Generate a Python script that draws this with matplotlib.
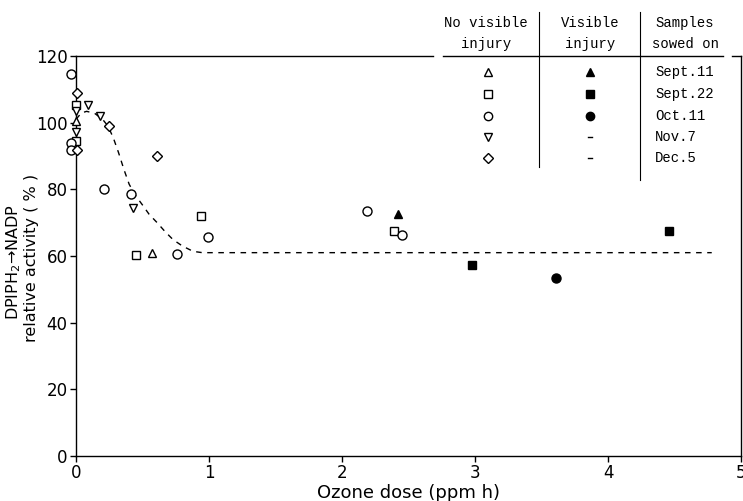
import matplotlib.pyplot as plt

# sowing dates / marker per series
sowings = ["Sept.11", "Sept.22", "Oct.11", "Nov.7", "Dec.5"]
markers = ["^", "s", "o", "v", "D"]

# no visible injury (open symbols)
open_x = {
    "Sept.11": [0.0, 0.57],
    "Sept.22": [0.0, 0.0, 0.45, 0.94, 2.39],
    "Oct.11": [-0.04, -0.04, -0.04, 0.21, 0.41, 0.76, 0.99, 2.19, 2.45],
    "Nov.7": [0.0, 0.0, 0.09, 0.18, 0.43],
    "Dec.5": [0.01, 0.01, 0.25, 0.61],
}
open_y = {
    "Sept.11": [100.4, 60.9],
    "Sept.22": [105.4, 94.4, 60.4, 71.9, 67.6],
    "Oct.11": [114.7, 93.9, 91.9, 80.0, 78.7, 60.6, 65.6, 73.4, 66.2],
    "Nov.7": [103.6, 97.1, 105.2, 101.9, 74.4],
    "Dec.5": [109.0, 91.7, 99.0, 89.9],
}
# visible injury (filled symbols)
fill_x = {"Sept.11": [2.42], "Sept.22": [2.98, 4.46], "Oct.11": [3.61]}
fill_y = {"Sept.11": [72.6], "Sept.22": [57.4, 67.4], "Oct.11": [53.5]}

# dashed trend curve
curve_x = [0.0, 0.04, 0.08, 0.14, 0.2, 0.24, 0.28, 0.32, 0.36, 0.4, 0.45,
           0.5, 0.55, 0.61, 0.67, 0.73, 0.8, 0.88, 0.95, 1.0, 4.78]
curve_y = [101.0, 102.9, 103.4, 102.8, 101.0, 99.0, 95.5, 91.0, 86.0, 81.5,
           78.0, 75.3, 72.5, 70.0, 67.3, 64.9, 63.0, 61.4, 61.0, 61.0, 61.0]

W, H = 743, 501
fig = plt.figure(figsize=(W / 100, H / 100), dpi=100)
ax = fig.add_axes([76 / W, 1 - 456 / H, 665 / W, 400 / H])

ax.plot(curve_x, curve_y, color="k", lw=1.0, ls=(0, (4, 4)))

for s, m in zip(sowings, markers):
    ms = 6.5 if m == "o" else (6 if m in "^v" else 5.5)
    ax.plot(open_x[s], open_y[s], m, mfc="white", mec="k", mew=1.0, ms=ms,
            ls="none", clip_on=False, zorder=3)
    if s in fill_x:
        ax.plot(fill_x[s], fill_y[s], m, color="k", ms=ms, ls="none",
                clip_on=False, zorder=3)

ax.set_xlim(0, 5)
ax.set_ylim(0, 120)
ax.set_xticks([0, 1, 2, 3, 4, 5])
ax.set_yticks([0, 20, 40, 60, 80, 100, 120])
ax.tick_params(direction="out", length=4, width=1, labelsize=12, pad=2)
ax.spines["top"].set_visible(False)
for sp in ["left", "bottom", "right"]:
    ax.spines[sp].set_linewidth(1.0)

# broken top line (table header rule)
for a, b in [(0, 0.537), (0.552, 0.973), (0.986, 1.0)]:
    ax.plot([a, b], [1, 1], color="k", lw=1.0, transform=ax.transAxes,
            clip_on=False)

ax.set_xlabel("Ozone dose (ppm h)", fontsize=13, labelpad=1)
fig.text(14 / W, 1 - 262 / H, "DPIPH$_2$\u2192NADP", rotation=90,
         ha="center", va="center", fontsize=11.5)
fig.text(32 / W, 1 - 258 / H, "relative activity ( % )", rotation=90,
         ha="center", va="center", fontsize=11.5)

# table in the upper right
def fx(px):
    return px / W


def fy(py):
    return 1 - py / H


mono = "Liberation Mono"
tfs = 10
for cx, l1, l2 in [(486, "No visible", "injury"), (590, "Visible", "injury"),
                   (685, "Samples", "sowed on")]:
    fig.text(fx(cx), fy(23), l1, ha="center", va="center", family=mono,
             fontsize=tfs)
    fig.text(fx(cx), fy(44), l2, ha="center", va="center", family=mono,
             fontsize=tfs)

fig.add_artist(plt.Line2D([fx(539), fx(539)], [fy(12), fy(167)], color="k",
                          lw=0.8))
fig.add_artist(plt.Line2D([fx(640), fx(640)], [fy(12), fy(180)], color="k",
                          lw=0.8))

rows_y = [72, 94, 116, 137, 158]
for s, m, ry in zip(sowings, markers, rows_y):
    tms = 6 if m != "D" else 5.5
    fig.add_artist(plt.Line2D([fx(488)], [fy(ry)], marker=m, mfc="white",
                              mec="k", mew=1.0, ms=tms, ls="none"))
    if s in fill_x:
        fig.add_artist(plt.Line2D([fx(590)], [fy(ry)], marker=m, color="k",
                                  ms=tms, ls="none"))
    else:
        fig.add_artist(plt.Line2D([fx(588), fx(592)], [fy(ry), fy(ry)],
                                  color="k", lw=1.0))
    fig.text(fx(655), fy(ry), s, ha="left", va="center", family=mono,
             fontsize=tfs)

fig.savefig("out.png", dpi=100)
